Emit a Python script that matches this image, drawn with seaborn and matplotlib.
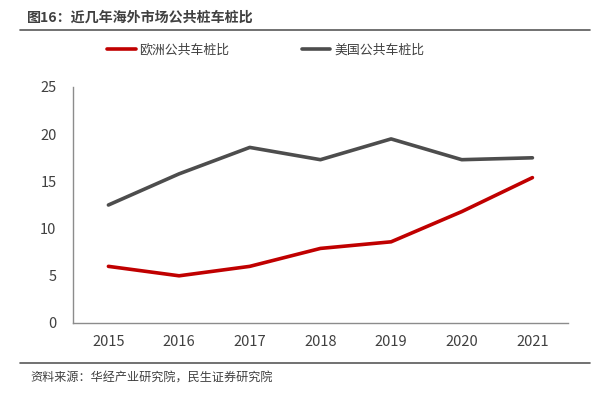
import matplotlib
matplotlib.use("Agg")
import matplotlib.pyplot as plt
import seaborn as sns
import pandas as pd
from matplotlib.lines import Line2D

years = ["2015", "2016", "2017", "2018", "2019", "2020", "2021"]
europe = [6.0, 5.0, 6.0, 7.9, 8.6, 11.8, 15.4]
usa = [12.5, 15.8, 18.6, 17.3, 19.5, 17.3, 17.5]
series_names = ["欧洲公共车桩比", "美国公共车桩比"]
yticks = [0, 5, 10, 15, 20, 25]
title = "图16：近几年海外市场公共桩车桩比"
source = "资料来源：华经产业研究院，民生证券研究院"

sns.set_theme(style="white")
plt.rcParams['font.family'] = ['Noto Sans CJK SC', 'DejaVu Sans']

df = pd.DataFrame({
    "year": years * 2,
    "value": europe + usa,
    "series": [series_names[0]] * len(years) + [series_names[1]] * len(years),
})

colors = {series_names[0]: "#C00000", series_names[1]: "#4D4D4D"}

fig = plt.figure(figsize=(6.04, 4.0), dpi=100)
ax = fig.add_axes([0.121, 0.1925, 0.819, 0.59])
sns.lineplot(data=df, x="year", y="value", hue="series", palette=colors,
             linewidth=2.6, ax=ax, legend=False, sort=False)

ax.set_xlim(-0.5, len(years) - 0.5)
ax.set_ylim(0, 25)
ax.set_yticks(yticks)
ax.set_xlabel("")
ax.set_ylabel("")
for s in ["top", "right"]:
    ax.spines[s].set_visible(False)
for s in ["left", "bottom"]:
    ax.spines[s].set_color("#8C8C8C")
    ax.spines[s].set_linewidth(1.0)
ax.tick_params(axis="both", length=0, labelsize=10.5, colors="#404040")
ax.tick_params(axis="y", pad=12)
ax.tick_params(axis="x", pad=9)

handles = [Line2D([0], [0], color=colors[n], lw=2.6) for n in series_names]
fig.legend(handles, series_names, loc="center", bbox_to_anchor=(0.44, 0.875),
           ncol=2, frameon=False, fontsize=9.3, handlelength=2.2,
           handletextpad=0.3, columnspacing=5.6, labelcolor="#404040")

fig.text(0.045, 0.955, title, fontsize=10.1, fontweight="bold",
         color="#404040", va="center", ha="left")
fig.add_artist(Line2D([0.033, 0.977], [0.925, 0.925], color="#595959", lw=1.2))
fig.add_artist(Line2D([0.033, 0.977], [0.0925, 0.0925], color="#595959", lw=1.2))
fig.text(0.05, 0.055, source, fontsize=8.7, color="#404040", va="center", ha="left")

fig.savefig("out.png", dpi=100)
